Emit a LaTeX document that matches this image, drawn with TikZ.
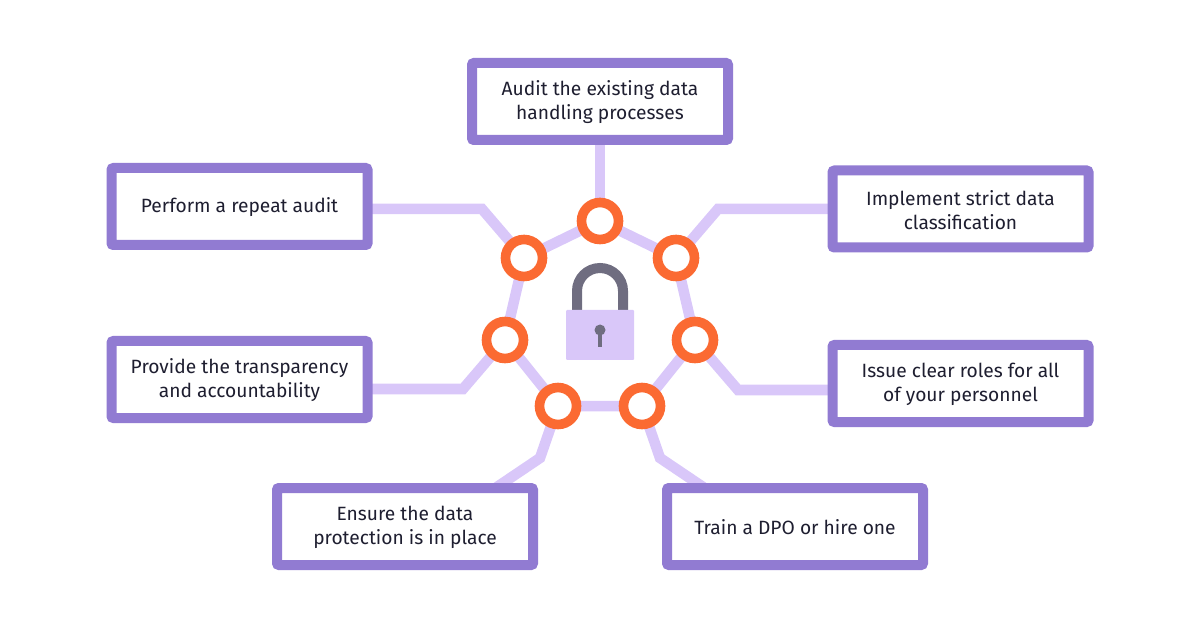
\documentclass[tikz,border=0pt]{standalone}
\usepackage{fontspec}
\setmainfont{Fira Sans}
\usetikzlibrary{backgrounds}
\definecolor{boxpurple}{HTML}{917BD2}
\definecolor{linkpurple}{HTML}{D9C7F9}
\definecolor{ringorange}{HTML}{FB6A32}
\definecolor{lockgrey}{HTML}{6F6D80}
\definecolor{labelink}{HTML}{1E1E30}
\tikzset{
  stepbox/.style={draw=boxpurple,fill=white,line width=10pt,rounded corners=2pt,minimum width=256pt,minimum height=77pt,inner sep=0pt},
  steptext/.style={yshift=-0.8pt,inner sep=0pt,align=center,text=labelink,font=\fontsize{19.2}{24}\selectfont},
  ring/.style={circle,draw=ringorange,fill=white,line width=9.6pt,minimum size=37pt,inner sep=0pt},
  link/.style={draw=linkpurple,line width=10.5pt,line join=miter}
}
\begin{document}
\begin{tikzpicture}[x=1pt,y=-1pt]
  \useasboundingbox (0,0) rectangle (1200,628);
  \node[stepbox] (audit) at (600,101.5) {};
  \node[stepbox] (classify) at (960.5,209) {};
  \node[stepbox] (roles) at (960.5,383.5) {};
  \node[stepbox] (dpo) at (795,526.5) {};
  \node[stepbox] (protect) at (405,526.5) {};
  \node[stepbox] (transp) at (239.5,379.5) {};
  \node[stepbox] (repeat) at (239.5,206.5) {};
  \node[steptext] (audittext) at (audit) {Audit the existing data\\handling processes};
  \node[steptext] (classifytext) at (classify) {Implement strict data\\classification};
  \node[steptext] (rolestext) at (roles) {Issue clear roles for all\\of your personnel};
  \node[steptext] (dpotext) at (dpo) {Train a DPO or hire one};
  \node[steptext] (protecttext) at (protect) {Ensure the data\\protection is in place};
  \node[steptext] (transptext) at (transp) {Provide the transparency\\and accountability};
  \node[steptext] (repeattext) at (repeat) {Perform a repeat audit};
  \node[ring] (r1) at (600,221) {};
  \node[ring] (r2) at (676,258) {};
  \node[ring] (r3) at (695,340) {};
  \node[ring] (r4) at (642,406) {};
  \node[ring] (r5) at (558,406) {};
  \node[ring] (r6) at (505,340) {};
  \node[ring] (r7) at (524,258) {};
  \coordinate (b2) at (718,209);
  \coordinate (b3) at (738,390);
  \coordinate (b4) at (660,458);
  \coordinate (b5) at (540,458);
  \coordinate (b6) at (463,389);
  \coordinate (b7) at (482,209);
  \coordinate (e4) at (706,489);
  \coordinate (e5) at (494,489);
  \begin{scope}[on background layer]
    \draw[link] (r1.center) -- (r2.center) -- (r3.center) -- (r4.center) -- (r5.center) -- (r6.center) -- (r7.center) -- cycle;
    \draw[link] (r1.center) -- (audit.center);
    \draw[link] (r2.center) -- (b2) -- (b2 -| classify.center);
    \draw[link] (r3.center) -- (b3) -- (b3 -| roles.center);
    \draw[link] (r4.center) -- (b4) -- (e4);
    \draw[link] (r5.center) -- (b5) -- (e5);
    \draw[link] (r6.center) -- (b6) -- (b6 -| transp.center);
    \draw[link] (r7.center) -- (b7) -- (b7 -| repeat.center);
  \end{scope}
  \draw[lockgrey,line width=10pt] (577,312) -- (577,291) arc[start angle=180,end angle=360,x radius=23,y radius=23] -- (623,312);
  \node[fill=linkpurple,minimum width=68pt,minimum height=50pt,inner sep=0pt,rounded corners=1pt] (lockbody) at (600,335) {};
  \fill[lockgrey] (600,330) circle[radius=5.5];
  \draw[lockgrey,line width=4pt] (600,330) -- (600,347);
\end{tikzpicture}
\end{document}
